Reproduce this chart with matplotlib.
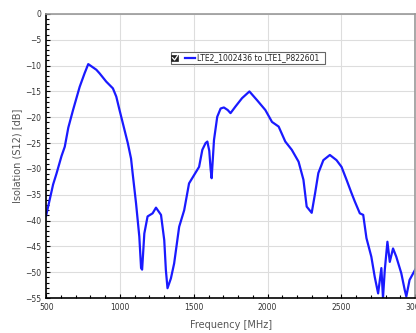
import matplotlib
matplotlib.use("Agg")
import matplotlib.pyplot as plt
from matplotlib.ticker import MultipleLocator
from matplotlib.patches import Rectangle
from matplotlib.lines import Line2D

# trace
freq = [500, 547, 570, 604, 626, 650, 682, 727, 760, 785, 810, 840, 862, 907, 952, 975,
        997, 1053, 1075, 1086, 1109, 1131, 1143, 1150, 1165, 1187, 1221, 1244, 1278,
        1300, 1311, 1322, 1345, 1367, 1401, 1435, 1468, 1502, 1536, 1558, 1580, 1592,
        1605, 1614, 1621, 1637, 1659, 1682, 1704, 1730, 1749, 1783, 1827, 1877,
        1929, 1985, 2030, 2075, 2120, 2164, 2210, 2243, 2265, 2299, 2322, 2344, 2378,
        2422, 2467, 2501, 2535, 2569, 2591, 2625, 2648, 2670, 2703, 2726, 2749, 2771,
        2782, 2794, 2812, 2828, 2850, 2872, 2906, 2929, 2940, 2962, 3000]
s12 = [-39.0, -33.0, -30.9, -27.5, -25.7, -22.0, -18.6, -14.1, -11.5, -9.7, -10.2,
       -10.8, -11.5, -13.1, -14.4, -16.0, -18.6, -25.0, -28.0, -30.9, -36.7, -43.1,
       -49.2, -49.5, -42.5, -39.2, -38.6, -37.5, -38.9, -43.8, -49.6, -53.1, -51.2,
       -48.3, -41.2, -38.0, -32.8, -31.2, -29.6, -26.3, -25.0, -24.7, -26.5, -30.0,
       -31.8, -24.4, -19.9, -18.3, -18.1, -18.6, -19.2, -17.9, -16.3, -15.0, -16.7,
       -18.6, -20.9, -21.8, -24.7, -26.3, -28.6, -32.1, -37.3, -38.5, -34.7, -30.8,
       -28.3, -27.3, -28.3, -29.6, -32.1, -34.7, -36.3, -38.6, -38.9, -43.4, -47.0,
       -50.9, -54.1, -49.2, -55.0, -49.6, -44.1, -48.0, -45.4, -47.0, -50.2, -53.4,
       -54.7, -51.5, -49.5]
legend_text = "LTE2_1002436 to LTE1_P822601"

fig = plt.figure(figsize=(4.16, 3.33), dpi=100)
ax = fig.add_axes([0.111, 0.105, 0.887, 0.853])

ax.plot(freq, s12, color="#1a1aff", lw=1.6)

ax.set_xlim(500, 3000)
ax.set_ylim(-55, 0)
ax.xaxis.set_major_locator(MultipleLocator(500))
ax.xaxis.set_minor_locator(MultipleLocator(100))
ax.yaxis.set_major_locator(MultipleLocator(5))
ax.yaxis.set_minor_locator(MultipleLocator(1))
ax.tick_params(which="both", direction="in", labelsize=5.5, labelcolor="#333333",
               color="black", width=0.8)
ax.tick_params(which="major", length=3)
ax.tick_params(which="minor", length=2)
ax.grid(True, which="major", color="#dddddd", lw=0.8)

for side in ["top", "right"]:
    ax.spines[side].set_color("#999999")
    ax.spines[side].set_linewidth(1.2)
for side in ["left", "bottom"]:
    ax.spines[side].set_color("black")
    ax.spines[side].set_linewidth(1.2)

ax.set_xlabel("Frequency [MHz]", fontsize=7, color="#555555", labelpad=6)
ax.set_ylabel("Isolation (S12) [dB]", fontsize=7, color="#555555", labelpad=2)

# legend box drawn by hand (checkbox + line + text)
ax.add_patch(Rectangle((0.338, 0.823), 0.417, 0.044, transform=ax.transAxes,
                       facecolor="white", edgecolor="#666666", lw=0.8, zorder=5))
ax.add_patch(Rectangle((0.3395, 0.833), 0.019, 0.024, transform=ax.transAxes,
                       facecolor="#222222", edgecolor="#222222", lw=0.5, zorder=6))
ax.add_line(Line2D([0.3425, 0.348, 0.356], [0.846, 0.838, 0.853], transform=ax.transAxes,
                   color="white", lw=0.9, zorder=7))
ax.add_line(Line2D([0.376, 0.403], [0.845, 0.845], transform=ax.transAxes,
                   color="#1a1aff", lw=1.6, zorder=6))
ax.text(0.410, 0.845, legend_text, transform=ax.transAxes, fontsize=5.5,
        va="center", ha="left", color="#222222", zorder=6)

fig.savefig("out.png", dpi=100)
